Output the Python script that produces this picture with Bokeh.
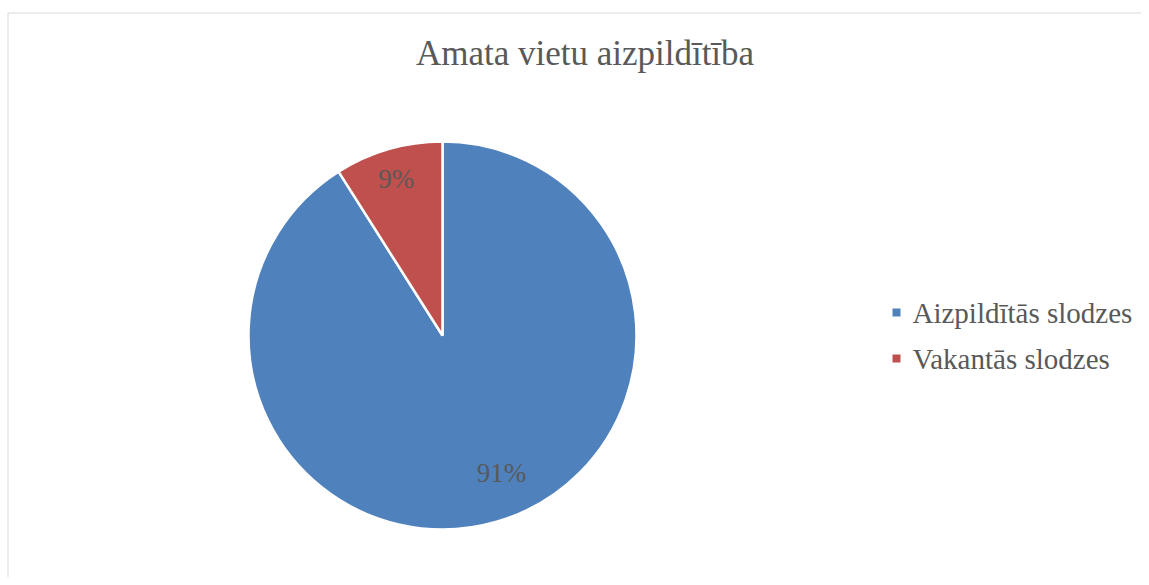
import math
from bokeh.plotting import figure
from bokeh.models import Range1d, ColumnDataSource
from bokeh.core.properties import value
from bokeh.embed import file_html
from bokeh.resources import INLINE

# ---- data ----
title_text = "Amata vietu aizpildītība"
categories = ["Aizpildītās slodzes", "Vakantās slodzes"]
shares = [91, 9]
labels = ["91%", "9%"]
colors = ["#4F81BD", "#C0504D"]

# ---- layout (pixels) ----
W, H = 1141, 577
cx, cy, R = 442, 242, 194
FONT = "Liberation Serif"
TXT = "#595959"

p = figure(width=W, height=H, output_backend="svg", toolbar_location=None,
           x_range=Range1d(0, W), y_range=Range1d(0, H), min_border=0)
p.axis.visible = False
p.grid.visible = False
p.outline_line_color = None
p.background_fill_color = "white"
p.border_fill_color = "white"

# chart border
p.quad(left=7.5, right=W + 20, top=564.5, bottom=-20, fill_color=None,
       line_color="#D9D9D9", line_width=1)

# wedges: start at 12 o'clock, clockwise
total = sum(shares)
starts, ends, mids = [], [], []
acc = 0.0
for v in shares:
    a0 = math.pi / 2 - 2 * math.pi * acc / total
    acc += v
    a1 = math.pi / 2 - 2 * math.pi * acc / total
    starts.append(a0)
    ends.append(a1)
    mids.append((a0 + a1) / 2)

src = ColumnDataSource(dict(start=starts, end=ends, color=colors, cat=categories))
p.wedge(x=cx, y=cy, radius=R, start_angle="start", end_angle="end",
        direction="clock", fill_color="color", line_color="white",
        line_width=2.5, source=src)

# percentage labels
label_r = [0.769, 0.842]
nudge = [0.124, 0.005]  # angular nudge (radians) per label
lx, ly = [], []
for m, rf, da in zip(mids, label_r, nudge):
    a = m + da
    lx.append(cx + R * rf * math.cos(a))
    ly.append(cy + R * rf * math.sin(a))
p.text(x=lx, y=ly, text=labels, text_font=value(FONT), text_font_size="27px",
       text_color=TXT, text_align="center", text_baseline="middle")

# title
p.text(x=[584.5], y=[524.5], text=[title_text], text_font=value(FONT),
       text_font_size="35px", text_color=TXT, text_align="center",
       text_baseline="middle")

# legend
leg_x, leg_y0, leg_dy = 896, 265, 46
ly2 = [leg_y0 - i * leg_dy for i in range(len(categories))]
p.scatter(x=[leg_x] * len(categories), y=ly2, marker="square", size=8,
          fill_color=colors, line_color=None)
p.text(x=[leg_x + 16] * len(categories), y=ly2, text=categories,
       text_font=value(FONT), text_font_size="29px", text_color=TXT,
       text_align="left", text_baseline="middle")

open("out.html", "w").write(file_html(p, INLINE))
